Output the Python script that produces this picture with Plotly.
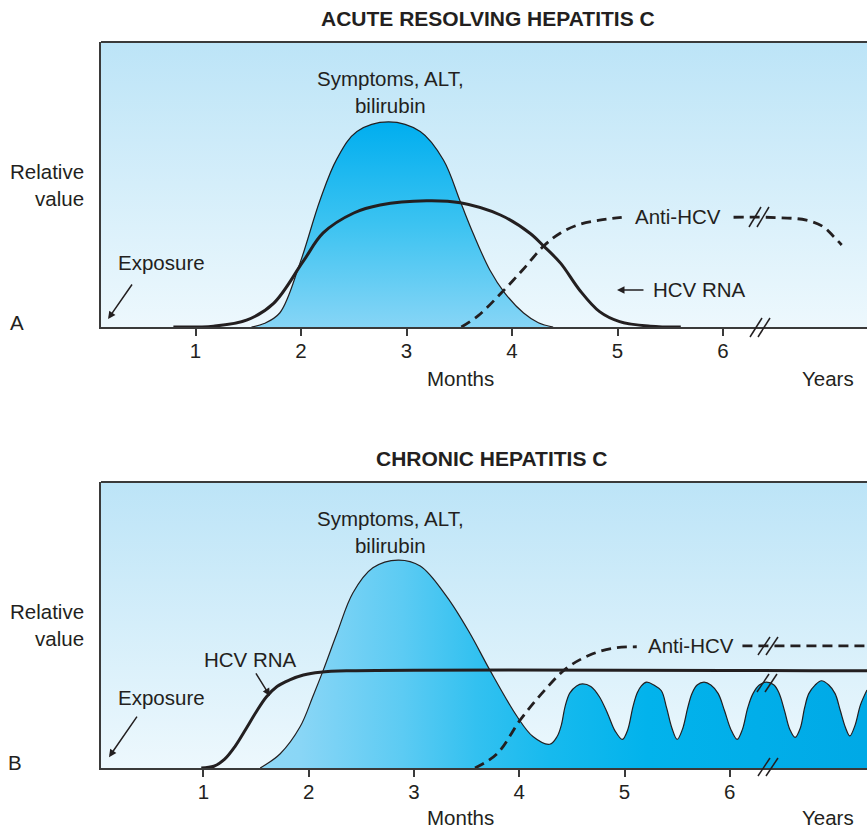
import plotly.graph_objects as go

# ---------------- data ----------------
tick_vals = [1, 2, 3, 4, 5, 6]
tick_text = ["1", "2", "3", "4", "5", "6"]

# Panel A: acute resolving hepatitis C (x in months, y relative value)
a_sym_x = [1.53, 1.65, 1.80, 1.99, 2.18, 2.34, 2.53, 2.83, 3.13, 3.35, 3.51, 3.63, 3.79, 3.93, 4.11, 4.25, 4.39]
a_sym_y = [0, 0.012, 0.05, 0.224, 0.445, 0.59, 0.686, 0.72, 0.686, 0.586, 0.44, 0.33, 0.2, 0.12, 0.049, 0.015, 0]

a_rna_x = [0.79, 1.17, 1.49, 1.74, 2.02, 2.21, 2.50, 2.75, 3.19, 3.51, 3.89, 4.17, 4.30, 4.46, 4.64, 4.83, 5.02, 5.31, 5.6]
a_rna_y = [0, 0.003, 0.025, 0.083, 0.23, 0.33, 0.40, 0.428, 0.443, 0.436, 0.393, 0.329, 0.284, 0.224, 0.13, 0.054, 0.019, 0.003, 0]

a_anti_x1 = [3.52, 3.68, 3.90, 4.10, 4.30, 4.46, 4.64, 4.83, 5.04]
a_anti_y1 = [0, 0.04, 0.12, 0.2, 0.284, 0.33, 0.36, 0.375, 0.385]
a_anti_x2 = [6.10, 6.50, 6.79, 6.95, 7.05, 7.125]
a_anti_y2 = [0.385, 0.384, 0.375, 0.352, 0.317, 0.288]

# Panel B: chronic hepatitis C
b_sym_x = [1.54, 1.73, 1.92, 2.04, 2.14, 2.27, 2.42, 2.61, 2.85, 3.06, 3.31, 3.53, 3.72, 3.98, 4.13, 4.29,
           4.36, 4.40, 4.435, 4.48, 4.545, 4.60, 4.68, 4.76, 4.84, 4.91, 4.98,
           5.03, 5.08, 5.12, 5.16, 5.21, 5.28, 5.35, 5.40, 5.45, 5.50,
           5.55, 5.60, 5.64, 5.69, 5.755, 5.82, 5.89, 5.95, 6.01, 6.07,
           6.12, 6.17, 6.22, 6.28, 6.35, 6.42, 6.47, 6.52, 6.57, 6.62,
           6.67, 6.71, 6.75, 6.81, 6.87, 6.94, 7.00, 7.05, 7.10, 7.14,
           7.19, 7.24, 7.303]
b_sym_y = [0, 0.05, 0.145, 0.25, 0.343, 0.472, 0.612, 0.70, 0.727, 0.706, 0.60, 0.472, 0.343, 0.18, 0.11, 0.083,
           0.11, 0.15, 0.214, 0.262, 0.287, 0.294, 0.285, 0.25, 0.19, 0.13, 0.10,
           0.133, 0.214, 0.262, 0.287, 0.30, 0.29, 0.27, 0.21, 0.14, 0.10,
           0.135, 0.21, 0.26, 0.29, 0.30, 0.29, 0.26, 0.20, 0.135, 0.10,
           0.135, 0.21, 0.26, 0.29, 0.30, 0.29, 0.26, 0.20, 0.135, 0.107,
           0.14, 0.21, 0.26, 0.29, 0.305, 0.29, 0.26, 0.20, 0.14, 0.112,
           0.15, 0.22, 0.273]

b_rna_x = [0.98, 1.1, 1.2, 1.3, 1.41, 1.5, 1.6, 1.7, 1.82, 1.95, 2.11, 2.36, 7.303]
b_rna_y = [0, 0.006, 0.03, 0.075, 0.14, 0.195, 0.249, 0.285, 0.308, 0.325, 0.335, 0.34, 0.34]

b_anti_x1 = [3.58, 3.79, 4.01, 4.23, 4.45, 4.67, 4.89, 5.116]
b_anti_y1 = [0, 0.05, 0.168, 0.267, 0.349, 0.395, 0.419, 0.424]
b_anti_x2 = [6.12, 7.303]
b_anti_y2 = [0.427, 0.427]

# ---------------- style ----------------
FONT = "Liberation Sans, Arial, Helvetica, sans-serif"
INK = "#231f20"
AXIS = "#3a3a3a"
BG_TOP = "#bce4f7"
BG_BOT = "#edf8fd"
TXT = 20.5
DASH = "10px,6px"

W, H = 867, 830
M = dict(l=101, r=0, t=42, b=62)
PW = W - M["l"] - M["r"]
PH = H - M["t"] - M["b"]

XR_A = [0.104, 7.365]
XR_B = [0.028, 7.303]


def paper(px, py):
    """Pixel position on the page -> paper coordinates."""
    return (px - M["l"]) / PW, (H - M["b"] - py) / PH


fig = go.Figure()


def background(xr, xa, ya):
    fig.add_trace(go.Scatter(
        x=[xr[0], xr[1], xr[1], xr[0], xr[0]], y=[0, 0, 1, 1, 0],
        fill="toself", mode="none", hoverinfo="skip",
        fillgradient=dict(type="vertical", colorscale=[[0, BG_BOT], [1, BG_TOP]], start=0, stop=1),
        xaxis=xa, yaxis=ya))


def line(x, y, xa, ya, width, dash="solid"):
    fig.add_trace(go.Scatter(
        x=x, y=y, mode="lines", hoverinfo="skip", xaxis=xa, yaxis=ya,
        line=dict(color=INK, width=width, shape="spline", dash=dash)))


# --- panel A ---
background(XR_A, "x", "y")
fig.add_trace(go.Scatter(
    x=a_sym_x, y=a_sym_y, mode="lines", fill="tozeroy", hoverinfo="skip",
    line=dict(color=INK, width=1.2, shape="spline"),
    fillgradient=dict(type="vertical", colorscale=[[0, "#86d5f6"], [0.5, "#3cc3f1"], [1, "#00aeef"]],
                      start=0, stop=0.72),
    xaxis="x", yaxis="y"))
line(a_anti_x1, a_anti_y1, "x", "y", 2.8, DASH)
line(a_anti_x2, a_anti_y2, "x", "y", 2.8, DASH)
line(a_rna_x, a_rna_y, "x", "y", 3)

# --- panel B ---
background(XR_B, "x2", "y2")
fig.add_trace(go.Scatter(
    x=b_sym_x, y=b_sym_y, mode="lines", fill="tozeroy", hoverinfo="skip",
    line=dict(color=INK, width=1.2, shape="spline"),
    fillgradient=dict(type="horizontal",
                      colorscale=[[0, "#8fd8f6"], [0.07, "#8ad6f6"], [0.24, "#5ccbf3"], [0.36, "#33c1f0"],
                                  [0.48, "#17baee"], [0.64, "#02b3ec"], [1, "#00a9e6"]],
                      start=1.5, stop=7.3),
    xaxis="x2", yaxis="y2"))
line(b_anti_x1, b_anti_y1, "x2", "y2", 2.8, DASH)
line(b_anti_x2, b_anti_y2, "x2", "y2", 2.8, DASH)
line(b_rna_x, b_rna_y, "x2", "y2", 3)

axis_common = dict(
    showgrid=False, zeroline=False, showline=True, linecolor=AXIS, linewidth=2,
    ticks="outside", ticklen=7, tickwidth=1.5, tickcolor=AXIS,
    tickvals=tick_vals, ticktext=tick_text, ticklabelstandoff=-3,
    tickfont=dict(family=FONT, size=TXT, color=INK),
)
yaxis_common = dict(showgrid=False, zeroline=False, showline=True, linecolor=AXIS, linewidth=2,
                    showticklabels=False, ticks="", range=[0, 1])

yA0, yA1 = paper(0, 327)[1], 1.0
yB0, yB1 = 0.0, paper(0, 482)[1]

fig.update_layout(
    width=W, height=H, margin=M,
    paper_bgcolor="white", plot_bgcolor="white", showlegend=False,
    font=dict(family=FONT, size=TXT, color=INK),
    xaxis=dict(range=XR_A, anchor="y", **axis_common),
    yaxis=dict(domain=[yA0, yA1], anchor="x", **yaxis_common),
    xaxis2=dict(range=XR_B, anchor="y2", **axis_common),
    yaxis2=dict(domain=[yB0, yB1], anchor="x2", **yaxis_common),
)

shapes = []
# top border of each panel
for yt in (yA1, yB1):
    shapes.append(dict(type="line", xref="paper", yref="paper", x0=0, x1=1, y0=yt, y1=yt,
                       line=dict(color=AXIS, width=2)))
# axis-break slashes (pixel endpoints)
breaks = [
    ((749, 227), (761, 207)), ((757, 227), (769, 207)),      # A anti-HCV
    ((750, 337), (762, 318)), ((758, 337), (770, 318)),      # A time axis
    ((758, 655), (770, 637)), ((766, 655), (778, 637)),      # B anti-HCV
    ((757, 692), (769, 674)), ((765, 692), (777, 674)),      # B ALT waves
    ((758, 776), (770, 758)), ((766, 776), (778, 758)),      # B time axis
]
for (p0, p1) in breaks:
    x0, y0 = paper(*p0)
    x1, y1 = paper(*p1)
    shapes.append(dict(type="line", xref="paper", yref="paper", x0=x0, y0=y0, x1=x1, y1=y1,
                       line=dict(color=INK, width=1.5)))
fig.update_layout(shapes=shapes)

ann = []


def text(t, x, y, xa, ya, size=TXT, bold=False, xanchor="center", align="center"):
    ann.append(dict(text=f"<b>{t}</b>" if bold else t, x=x, y=y, xref=xa, yref=ya,
                    showarrow=False, xanchor=xanchor, yanchor="middle", align=align,
                    font=dict(family=FONT, size=size, color=INK)))


def ptext(t, px, py, size=TXT, bold=False, xanchor="center", align="center"):
    """Text placed in page pixels (outside the plotting areas)."""
    x, y = paper(px, py)
    text(t, x, y, "paper", "paper", size=size, bold=bold, xanchor=xanchor, align=align)


def arrow(x, y, ax, ay, xa, ya):
    ann.append(dict(text="", x=x, y=y, xref=xa, yref=ya, ax=ax, ay=ay, showarrow=True,
                    arrowhead=2, arrowsize=1, arrowwidth=1.5, arrowcolor=INK, standoff=0))


# panel A labels
ptext("ACUTE RESOLVING HEPATITIS C", 488, 18, size=21, bold=True)
text("Symptoms, ALT,<br>bilirubin", 2.85, 0.825, "x", "y")
ptext("Relative<br>value", 86, 185, xanchor="right", align="right")
text("Exposure", 0.673, 0.228, "x", "y")
arrow(0.171, 0.028, 25, -36, "x", "y")
ptext("A", 17, 322)
text("Anti-HCV", 5.578, 0.386, "x", "y")
text("HCV RNA", 5.78, 0.13, "x", "y")
arrow(4.995, 0.13, 28, 0, "x", "y")
ptext("Months", 460, 378)
ptext("Years", 828, 378)

# panel B labels
ptext("CHRONIC HEPATITIS C", 491.5, 458, size=21, bold=True)
text("Symptoms, ALT,<br>bilirubin", 2.78, 0.825, "x2", "y2")
ptext("Relative<br>value", 86, 625, xanchor="right", align="right")
text("HCV RNA", 1.448, 0.378, "x2", "y2")
arrow(1.633, 0.252, -15, -24, "x2", "y2")
text("Exposure", 0.598, 0.248, "x2", "y2")
arrow(0.104, 0.038, 29, -42, "x2", "y2")
ptext("B", 15, 762)
text("Anti-HCV", 5.631, 0.427, "x2", "y2")
ptext("Months", 460, 817)
ptext("Years", 828, 817)

fig.update_layout(annotations=ann)

fig.write_html("out.html")
